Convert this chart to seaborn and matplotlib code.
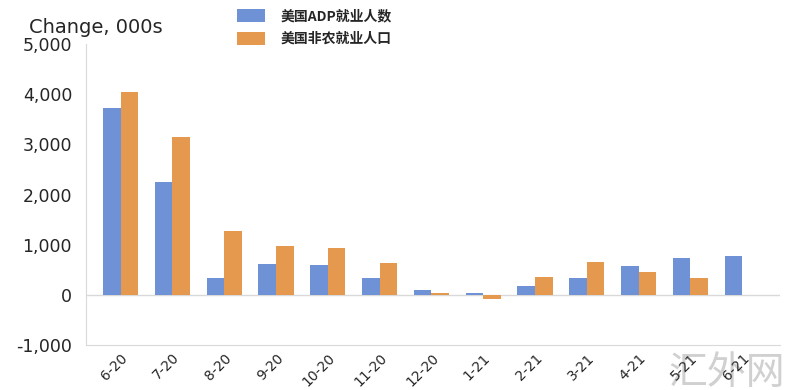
import numpy as np
import pandas as pd
import matplotlib
matplotlib.use("Agg")
import matplotlib.pyplot as plt
import seaborn as sns

# donnees (milliers)
months = ["6-20", "7-20", "8-20", "9-20", "10-20", "11-20", "12-20",
          "1-21", "2-21", "3-21", "4-21", "5-21", "6-21"]
adp = [3720, 2260, 340, 620, 600, 340, 100, 40, 180, 340, 570, 740, 780]
nfp = [4040, 3140, 1280, 980, 940, 640, 40, -80, 360, 660, 460, 340, np.nan]
series_names = ["美国ADP就业人数", "美国非农就业人口"]
colors = ["#6f91d6", "#e5994f"]

df = pd.DataFrame({
    "month": months * 2,
    "value": adp + nfp,
    "series": [series_names[0]] * len(months) + [series_names[1]] * len(months),
})

sns.set_style("white")
plt.rcParams['font.family'] = ['DejaVu Sans', 'Noto Sans CJK SC']

fig = plt.figure(figsize=(8, 3.9), dpi=100)
ax = fig.add_axes([0.1075, 0.115, 0.8675, 0.772])
ax.patch.set_alpha(0)

sns.barplot(data=df, x="month", y="value", hue="series", palette=colors,
            width=0.68, ax=ax, saturation=1, linewidth=0, legend=True)

ax.set_ylim(-1000, 5000)
ax.set_yticks(range(-1000, 5001, 1000))
ax.set_yticklabels([f"{v:,}" for v in range(-1000, 5001, 1000)], fontsize=12.5)
ax.set_xlim(-0.67, 12.73)
ax.axhline(0, color="#d9d9d9", lw=1, zorder=0)
ax.set_xlabel("")
ax.set_ylabel("")
plt.setp(ax.get_xticklabels(), rotation=45, ha="right", rotation_mode="anchor", fontsize=10)
ax.tick_params(axis="y", length=0, pad=10)
ax.tick_params(axis="x", length=0, pad=4)

for s in ["top", "right"]:
    ax.spines[s].set_visible(False)
for s in ["left", "bottom"]:
    ax.spines[s].set_color("#d9d9d9")

fig.text(0.036, 0.915, "Change, 000s", fontsize=14)

leg = ax.legend(loc="upper left", bbox_to_anchor=(0.2, 1.158), frameon=False,
                fontsize=10, handlelength=2.0, handleheight=1.1, labelspacing=0.6,
                handletextpad=1.1)
for t in leg.get_texts():
    t.set_fontweight("bold")
    t.set_family(['Noto Sans CJK SC', 'DejaVu Sans'])

# filigrane en arriere-plan
fig.text(0.835, 0.015, "汇外网", fontsize=28, color="#d0d0d0", zorder=-1,
         family=['Noto Sans CJK SC', 'DejaVu Sans'], fontweight="light")

fig.savefig("out.png", dpi=100)
